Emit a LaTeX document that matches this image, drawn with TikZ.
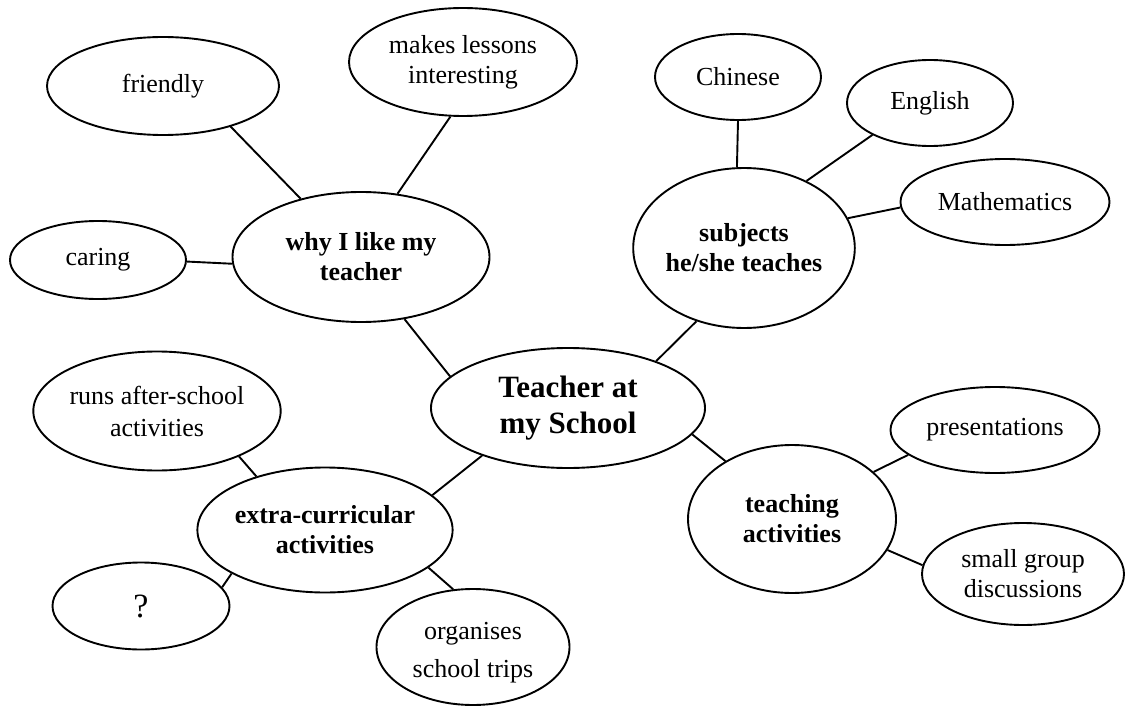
\documentclass[tikz,border=0pt]{standalone}
\usepackage{fontspec}
\setmainfont{Liberation Serif}
\usetikzlibrary{shapes.geometric}
\begin{document}
\begin{tikzpicture}[x=1pt,y=-1pt,
  bub/.style={draw, ellipse, line width=1.9pt, inner sep=0pt, align=center,
              font=\fontsize{26}{30}\selectfont},
  hub/.style={bub, font=\fontsize{26}{30}\selectfont\bfseries},
  core/.style={bub, font=\fontsize{31}{36}\selectfont\bfseries},
  link/.style={line width=1.9pt}]
\fill[white] (0,0) rectangle (1125,706);
\useasboundingbox (0,0) rectangle (1125,706);

% centre
\node[core, minimum width=274pt, minimum height=120pt] (teacher) at (568,408) {Teacher at\\my School};

% why I like my teacher
\node[hub, minimum width=257pt, minimum height=130pt] (why) at (361,257) {why I like my\\teacher};
\node[bub, minimum width=232pt, minimum height=98pt] (friendly) at (163,86) {friendly};
\node[bub, minimum width=228pt, minimum height=108pt] (makes) at (463,62) {makes lessons\\interesting};
\node[bub, minimum width=176pt, minimum height=78pt] (caring) at (98,260) {caring};

% subjects
\node[hub, minimum width=209pt, minimum height=160pt] (subj) at (744,248) {subjects\\he/she teaches};
\node[bub, minimum width=166pt, minimum height=86pt] (chinese) at (738,77) {Chinese};
\node[bub, minimum width=166pt, minimum height=86pt] (english) at (930,103) {English};
\node[bub, minimum width=209pt, minimum height=86pt] (maths) at (1005,202) {Mathematics};

% extra-curricular
\node[hub, minimum width=233pt, minimum height=125pt] (extra) at (325,530) {extra-curricular\\activities};
\node[bub, minimum width=233pt, minimum height=119pt, font=\fontsize{26}{32}\selectfont] (runs) at (157,411) {runs after-school\\activities};
\node[bub, minimum width=177pt, minimum height=87pt, font=\fontsize{34}{40}\selectfont] (q) at (141,606) {?};
\node[bub, minimum width=193pt, minimum height=116pt, font=\fontsize{26}{38}\selectfont] (trips) at (473,647) {\rule{0pt}{28pt}organises\\school trips};

% teaching activities
\node[hub, minimum width=208pt, minimum height=148pt] (teach) at (792,519) {teaching\\activities};
\node[bub, minimum width=209pt, minimum height=86pt] (pres) at (995,430) {presentations};
\node[bub, minimum width=202pt, minimum height=102pt] (small) at (1023,574) {small group\\discussions};

% connectors
\draw[link] (friendly.-31.8) -- (why.136.4);
\draw[link] (makes.-103.3) -- (why.60.3);
\draw[link] (caring.-1.3) -- (why.-177.8);
\draw[link] (why.-55.9) -- (teacher.165.7);

\draw[link] (chinese.-90) -- (subj.95);
\draw[link] (english.-151.1) -- (subj.47.7);
\draw[link] (maths.-177.2) -- (subj.16.9);
\draw[link] (subj.-123.5) -- (teacher.28.9);

\draw[link] (teacher.-151.1) -- (extra.18.4);
\draw[link] (runs.-29.4) -- (extra.142.3);
\draw[link] (q.13.4) -- (extra.-155.2);
\draw[link] (extra.-20.6) -- (trips.109.3);

\draw[link] (teacher.-12.8) -- (teach.139.6);
\draw[link] (teach.30.1) -- (pres.-164.6);
\draw[link] (teach.-18.1) -- (small.175.4);
\end{tikzpicture}
\end{document}
